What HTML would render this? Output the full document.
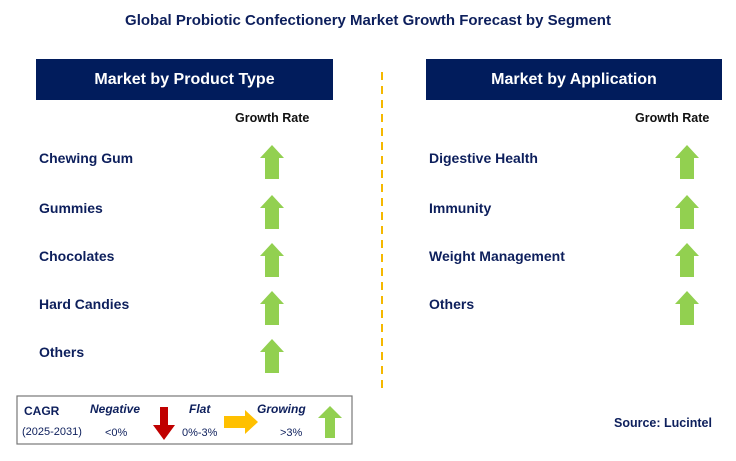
<!DOCTYPE html>
<html><head><meta charset="utf-8"><style>
body{margin:0;width:736px;height:461px;background:#fff;position:relative;overflow:hidden;font-family:"Liberation Sans",sans-serif;}
.a{position:absolute}
.title{left:0;width:736px;top:12px;text-align:center;font-weight:bold;font-size:15px;color:#0d1f5c}
.hdr{background:#011c5c;color:#fff;font-weight:bold;font-size:16px;text-align:center;line-height:41px;height:41px;top:59px}
.gr{font-weight:bold;font-size:12.5px;color:#111;top:111px}
.lbl{font-weight:bold;font-size:14px;color:#0d1f5c}
</style></head><body>
<div class="a title">Global Probiotic Confectionery Market Growth Forecast by Segment</div>
<div class="a hdr" style="left:36px;width:297px">Market by Product Type</div>
<div class="a hdr" style="left:426px;width:296px">Market by Application</div>
<div class="a gr" style="left:235px">Growth Rate</div>
<div class="a gr" style="left:635px">Growth Rate</div>
<svg class="a" style="left:0;top:0" width="736" height="461">
<line x1="382" y1="72" x2="382" y2="392" stroke="#f5b800" stroke-width="2" stroke-dasharray="8,6"/>
<g id="arrows"></g>
<rect x="17" y="396" width="335" height="48" fill="#fff" stroke="#777" stroke-width="1.2"/>
<text x="24" y="415" font-size="12" font-weight="bold" fill="#0d1f5c">CAGR</text>
<text x="22" y="435" font-size="11" fill="#0d1f5c">(2025-2031)</text>
<text x="90" y="413" font-size="12" font-weight="bold" font-style="italic" fill="#0d1f5c">Negative</text>
<text x="105" y="436" font-size="11" fill="#0d1f5c">&lt;0%</text>
<polygon points="160,407 168,407 168,425 175,425 164,440 153,425 160,425" fill="#c00000"/>
<text x="189" y="413" font-size="12" font-weight="bold" font-style="italic" fill="#0d1f5c">Flat</text>
<text x="182" y="436" font-size="11" fill="#0d1f5c">0%-3%</text>
<polygon points="224,416 245,416 245,410 258,422 245,434 245,428 224,428" fill="#ffc000"/>
<text x="257" y="413" font-size="12" font-weight="bold" font-style="italic" fill="#0d1f5c">Growing</text>
<text x="280" y="436" font-size="11" fill="#0d1f5c">&gt;3%</text>
<polygon points="330,406 342,418 335,418 335,438 325,438 325,418 318,418" fill="#92d050"/>
<text x="614" y="427" font-size="12.5" font-weight="bold" fill="#0d1f5c">Source: Lucintel</text>
</svg>
<div id="labels"></div>
<script>
const productTypes=["Chewing Gum","Gummies","Chocolates","Hard Candies","Others"];
const applications=["Digestive Health","Immunity","Weight Management","Others"];
const rowY=[159,209,257,305,353];
const lab=document.getElementById('labels');
const g=document.getElementById('arrows');
function up(cx,cy,name){
  const p=document.createElementNS('http://www.w3.org/2000/svg','polygon');
  const t=cy-17,b=cy+17;
  p.setAttribute('points',`${cx},${t} ${cx+12},${t+13} ${cx+7},${t+13} ${cx+7},${b} ${cx-7},${b} ${cx-7},${t+13} ${cx-12},${t+13}`);
  p.setAttribute('fill','#92d050');
  
  
  g.appendChild(p);
}
function addRows(list,x,ax,prefix){
  list.forEach((s,i)=>{
    const d=document.createElement('div');
    d.className='a lbl';d.style.left=x+'px';d.style.top=(rowY[i]-9)+'px';d.textContent=s;
    
    
    lab.appendChild(d);
    up(ax,rowY[i]+3,prefix+'-growth-arrow');
  });
}
addRows(productTypes,39,272,'product');
addRows(applications,429,687,'application');
</script>
</body></html>
